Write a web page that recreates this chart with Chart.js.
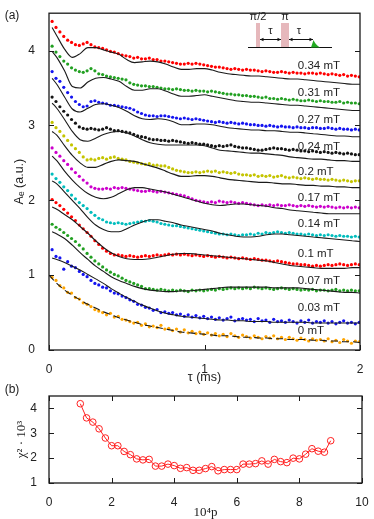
<!DOCTYPE html>
<html><head><meta charset="utf-8">
<script src="https://cdn.jsdelivr.net/npm/chart.js@4.4.1/dist/chart.umd.min.js"></script>
<style>
html,body{margin:0;padding:0;background:#fff;width:374px;height:519px;overflow:hidden;}
#c1{position:absolute;left:0;top:0;}
#c2{position:absolute;left:0;top:380px;}
</style></head><body>
<canvas id="c1" width="374" height="388"></canvas>
<canvas id="c2" width="374" height="140"></canvas>
<script>
// ---------- panel (a) data ----------
const tau = [0.020,0.045,0.070,0.095,0.120,0.145,0.170,0.195,0.220,0.245,
0.270,0.295,0.320,0.345,0.370,0.395,0.420,0.445,0.470,0.495,
0.520,0.545,0.570,0.595,0.620,0.645,0.670,0.695,0.720,0.745,
0.770,0.795,0.820,0.845,0.870,0.895,0.920,0.945,0.970,0.995,
1.020,1.045,1.070,1.095,1.120,1.145,1.170,1.195,1.220,1.245,
1.270,1.295,1.320,1.345,1.370,1.395,1.420,1.445,1.470,1.495,
1.520,1.545,1.570,1.595,1.620,1.645,1.670,1.695,1.720,1.745,
1.770,1.795,1.820,1.845,1.870,1.895,1.920,1.945,1.970,1.995];
const fitTau = [0.02,0.05,0.10,0.15,0.20,0.25,0.30,0.35,0.40,0.45,0.50,0.55,0.60,0.65,0.70,0.75,0.80,0.85,0.90,0.95,1.00,
1.05,1.10,1.15,1.20,1.25,1.30,1.35,1.40,1.45,1.50,1.55,1.60,1.65,1.70,1.75,1.80,1.85,1.90,1.95,2.00];
const fitTauZero = [0.00,0.05,0.10,0.15,0.20,0.25,0.30,0.35,0.40,0.45,0.50,0.55,0.60,0.65,0.70,0.75,0.80,0.85,0.90,0.95,1.00,
1.05,1.10,1.15,1.20,1.25,1.30,1.35,1.40,1.45,1.50,1.55,1.60,1.65,1.70,1.75,1.80,1.85,1.90,1.95,2.00];

const fieldLabels = ['0.34 mT','0.31 mT','0.27 mT','0.24 mT','0.2 mT','0.17 mT','0.14 mT','0.1 mT','0.07 mT','0.03 mT','0 mT'];
const seriesColors = ['#ff0000','#22a022','#1414f0','#141414','#c4c400','#cc00cc','#00bdbd','#ff0000','#22a022','#1414f0','#ffa500'];

const dat034 = [4.39,4.31,4.25,4.19,4.14,4.11,4.08,4.07,4.09,4.11,
4.08,4.05,4.04,4.03,4.01,3.99,3.98,3.96,3.94,3.93,
3.92,3.90,3.91,3.89,3.89,3.90,3.88,3.88,3.86,3.86,
3.85,3.84,3.83,3.82,3.82,3.83,3.82,3.83,3.82,3.81,
3.80,3.79,3.78,3.78,3.77,3.76,3.75,3.76,3.75,3.74,
3.75,3.74,3.74,3.73,3.72,3.73,3.72,3.71,3.71,3.72,
3.71,3.70,3.71,3.70,3.70,3.69,3.70,3.70,3.69,3.70,
3.69,3.68,3.69,3.68,3.67,3.68,3.66,3.67,3.66,3.65];
const dat031 = [4.06,3.98,3.92,3.86,3.82,3.77,3.74,3.72,3.71,3.73,
3.76,3.73,3.69,3.68,3.66,3.65,3.64,3.63,3.62,3.61,
3.57,3.55,3.54,3.53,3.53,3.52,3.52,3.51,3.50,3.49,
3.49,3.48,3.49,3.48,3.47,3.47,3.46,3.47,3.46,3.46,
3.45,3.46,3.45,3.44,3.43,3.42,3.42,3.41,3.41,3.40,
3.40,3.39,3.39,3.38,3.37,3.38,3.36,3.36,3.35,3.36,
3.35,3.34,3.35,3.34,3.33,3.33,3.34,3.33,3.32,3.33,
3.32,3.32,3.31,3.31,3.32,3.30,3.31,3.30,3.30,3.29];
const dat027 = [3.72,3.63,3.59,3.51,3.44,3.38,3.32,3.28,3.25,3.26,
3.32,3.33,3.31,3.30,3.29,3.27,3.27,3.26,3.25,3.24,
3.23,3.21,3.18,3.16,3.14,3.13,3.13,3.12,3.13,3.13,
3.12,3.11,3.10,3.09,3.10,3.09,3.08,3.09,3.08,3.07,
3.06,3.05,3.04,3.05,3.04,3.03,3.04,3.03,3.02,3.03,
3.02,3.01,3.01,3.00,3.00,2.99,3.00,2.99,2.98,2.99,
2.98,2.98,2.97,2.98,2.97,2.97,2.96,2.97,2.97,2.96,
2.96,2.97,2.96,2.95,2.96,2.95,2.95,2.94,2.95,2.94];
const dat024 = [3.38,3.32,3.25,3.19,3.14,3.08,3.03,2.98,2.96,2.95,
2.96,2.95,2.94,2.95,2.97,2.95,2.93,2.93,2.92,2.91,
2.90,2.88,2.86,2.85,2.84,2.82,2.81,2.81,2.80,2.80,
2.79,2.80,2.79,2.78,2.77,2.76,2.77,2.76,2.75,2.75,
2.74,2.73,2.72,2.73,2.72,2.73,2.74,2.72,2.71,2.70,
2.70,2.69,2.68,2.67,2.67,2.68,2.69,2.70,2.69,2.69,
2.68,2.67,2.68,2.67,2.66,2.66,2.65,2.66,2.65,2.64,
2.65,2.64,2.63,2.64,2.63,2.62,2.63,2.62,2.61,2.61];
const dat020 = [3.04,2.97,2.92,2.86,2.80,2.74,2.69,2.64,2.58,2.54,
2.55,2.54,2.56,2.57,2.55,2.57,2.58,2.56,2.55,2.54,
2.52,2.51,2.50,2.49,2.48,2.49,2.47,2.47,2.46,2.46,
2.44,2.42,2.40,2.39,2.38,2.37,2.37,2.38,2.37,2.38,
2.39,2.38,2.39,2.37,2.38,2.37,2.36,2.37,2.35,2.34,
2.34,2.33,2.34,2.32,2.33,2.32,2.33,2.31,2.32,2.33,
2.31,2.30,2.31,2.30,2.29,2.30,2.29,2.28,2.29,2.28,
2.28,2.27,2.28,2.27,2.26,2.27,2.26,2.25,2.26,2.26];
const dat017 = [2.70,2.64,2.59,2.53,2.48,2.42,2.37,2.32,2.27,2.23,
2.18,2.16,2.15,2.15,2.16,2.15,2.17,2.16,2.17,2.16,
2.15,2.14,2.13,2.12,2.12,2.13,2.12,2.11,2.12,2.11,
2.10,2.09,2.08,2.07,2.06,2.04,2.02,2.00,1.99,1.98,
1.97,1.98,1.97,1.99,1.98,1.97,1.98,1.97,1.96,1.97,
1.96,1.95,1.94,1.93,1.94,1.93,1.94,1.93,1.94,1.93,
1.93,1.94,1.93,1.92,1.93,1.92,1.93,1.92,1.91,1.92,
1.91,1.92,1.91,1.90,1.91,1.90,1.91,1.90,1.91,1.90];
const dat014 = [2.35,2.29,2.24,2.18,2.13,2.07,2.02,1.97,1.93,1.89,
1.84,1.80,1.76,1.74,1.71,1.70,1.69,1.70,1.69,1.68,
1.69,1.70,1.71,1.72,1.72,1.73,1.72,1.71,1.69,1.68,
1.67,1.66,1.66,1.65,1.64,1.63,1.62,1.61,1.60,1.59,
1.58,1.57,1.56,1.55,1.55,1.54,1.55,1.54,1.53,1.54,
1.54,1.55,1.54,1.56,1.55,1.57,1.56,1.57,1.58,1.57,
1.56,1.57,1.56,1.55,1.55,1.54,1.55,1.54,1.53,1.54,
1.53,1.54,1.53,1.52,1.53,1.52,1.52,1.51,1.52,1.51];
const dat010 = [2.01,1.97,1.93,1.88,1.83,1.78,1.73,1.67,1.62,1.57,
1.52,1.46,1.41,1.36,1.32,1.29,1.27,1.27,1.26,1.25,
1.26,1.25,1.24,1.25,1.26,1.25,1.26,1.27,1.26,1.27,
1.28,1.27,1.28,1.27,1.28,1.27,1.26,1.27,1.26,1.25,
1.26,1.25,1.24,1.25,1.24,1.23,1.24,1.23,1.22,1.23,
1.22,1.21,1.22,1.21,1.20,1.20,1.19,1.18,1.19,1.18,
1.17,1.16,1.15,1.15,1.14,1.14,1.13,1.12,1.13,1.12,
1.13,1.14,1.13,1.14,1.15,1.14,1.13,1.14,1.15,1.14];
const dat007 = [1.68,1.64,1.61,1.57,1.53,1.49,1.45,1.40,1.35,1.29,
1.24,1.19,1.15,1.11,1.07,1.04,1.01,0.99,0.96,0.93,
0.91,0.89,0.87,0.85,0.82,0.82,0.81,0.80,0.81,0.80,
0.79,0.80,0.79,0.80,0.79,0.78,0.80,0.79,0.80,0.79,
0.80,0.81,0.80,0.82,0.81,0.82,0.83,0.82,0.83,0.82,
0.83,0.82,0.84,0.83,0.82,0.83,0.82,0.81,0.82,0.83,
0.82,0.81,0.82,0.81,0.80,0.81,0.80,0.81,0.79,0.80,
0.80,0.79,0.80,0.81,0.79,0.80,0.79,0.80,0.79,0.79];
const dat003 = [1.34,1.25,1.23,1.08,1.18,1.12,1.10,1.05,1.01,0.98,
0.93,0.89,0.87,0.84,0.83,0.79,0.76,0.75,0.72,0.70,
0.67,0.65,0.61,0.60,0.57,0.56,0.53,0.54,0.50,0.51,
0.49,0.50,0.47,0.48,0.45,0.47,0.44,0.46,0.43,0.45,
0.42,0.44,0.41,0.43,0.40,0.42,0.44,0.39,0.41,0.42,
0.40,0.41,0.38,0.42,0.39,0.40,0.37,0.41,0.38,0.39,
0.37,0.40,0.38,0.36,0.39,0.37,0.40,0.36,0.38,0.37,
0.39,0.36,0.38,0.35,0.37,0.39,0.36,0.37,0.35,0.37];
const dat000 = [0.97,0.93,0.86,0.83,0.77,0.76,0.70,0.68,0.63,0.61,
0.58,0.54,0.52,0.50,0.47,0.49,0.44,0.45,0.41,0.40,
0.38,0.36,0.37,0.33,0.35,0.31,0.32,0.30,0.33,0.28,
0.29,0.26,0.28,0.24,0.27,0.23,0.25,0.22,0.24,0.21,
0.23,0.20,0.22,0.19,0.21,0.18,0.22,0.19,0.17,0.20,
0.18,0.16,0.19,0.17,0.15,0.18,0.16,0.19,0.15,0.17,
0.14,0.17,0.15,0.13,0.16,0.14,0.12,0.15,0.13,0.14,
0.12,0.15,0.11,0.13,0.10,0.14,0.12,0.09,0.12,0.11];

const fit034 = [4.31,4.20,4.02,3.91,3.96,4.04,4.04,4.01,3.98,3.95,3.88,3.84,3.85,3.86,3.85,3.82,3.78,3.75,3.75,3.76,3.76,
3.74,3.71,3.69,3.68,3.67,3.66,3.66,3.65,3.64,3.63,3.62,3.62,3.61,3.60,3.59,3.58,3.57,3.56,3.55,3.55];
const fit031 = [3.99,3.91,3.73,3.52,3.50,3.58,3.63,3.64,3.62,3.59,3.52,3.47,3.47,3.49,3.49,3.46,3.42,3.39,3.39,3.40,3.41,
3.39,3.37,3.35,3.33,3.32,3.31,3.31,3.30,3.29,3.28,3.27,3.27,3.26,3.25,3.24,3.23,3.22,3.21,3.20,3.20];
const fit027 = [3.63,3.55,3.38,3.22,3.18,3.23,3.28,3.29,3.27,3.24,3.19,3.13,3.09,3.08,3.09,3.08,3.05,3.01,3.01,3.02,3.02,
3.01,2.99,2.97,2.96,2.95,2.94,2.94,2.93,2.93,2.92,2.91,2.91,2.90,2.89,2.88,2.87,2.86,2.86,2.85,2.85];
const fit024 = [3.30,3.23,3.08,2.92,2.81,2.79,2.83,2.88,2.91,2.92,2.90,2.86,2.81,2.77,2.75,2.74,2.74,2.74,2.74,2.74,2.73,
2.70,2.67,2.66,2.65,2.64,2.63,2.63,2.62,2.61,2.60,2.58,2.57,2.56,2.55,2.55,2.54,2.53,2.53,2.52,2.52];
const fit020 = [2.92,2.87,2.73,2.60,2.50,2.44,2.44,2.48,2.52,2.54,2.53,2.52,2.49,2.46,2.43,2.39,2.35,2.32,2.32,2.33,2.33,
2.32,2.30,2.28,2.27,2.26,2.25,2.24,2.24,2.23,2.22,2.22,2.21,2.20,2.20,2.19,2.19,2.18,2.18,2.17,2.17];
const fit017 = [2.59,2.53,2.39,2.27,2.17,2.09,2.04,2.02,2.04,2.09,2.14,2.17,2.17,2.15,2.13,2.11,2.08,2.05,2.02,1.99,1.96,
1.94,1.93,1.94,1.95,1.95,1.94,1.93,1.92,1.90,1.89,1.87,1.86,1.85,1.84,1.83,1.82,1.82,1.82,1.82,1.82];
const fit014 = [2.26,2.22,2.11,2.00,1.89,1.77,1.67,1.61,1.58,1.58,1.62,1.67,1.71,1.74,1.74,1.72,1.70,1.67,1.65,1.63,1.61,
1.59,1.56,1.54,1.52,1.51,1.51,1.52,1.54,1.55,1.55,1.54,1.53,1.52,1.51,1.50,1.49,1.48,1.47,1.46,1.45];
const fit010 = [1.91,1.88,1.81,1.74,1.65,1.56,1.46,1.37,1.30,1.25,1.22,1.21,1.21,1.22,1.24,1.26,1.28,1.29,1.29,1.28,1.27,
1.26,1.25,1.24,1.23,1.22,1.21,1.20,1.19,1.17,1.15,1.13,1.12,1.11,1.10,1.09,1.09,1.09,1.09,1.10,1.10];
const fit007 = [1.58,1.55,1.49,1.40,1.30,1.21,1.12,1.05,0.98,0.93,0.89,0.85,0.82,0.80,0.79,0.78,0.78,0.79,0.79,0.80,0.81,
0.82,0.83,0.84,0.84,0.84,0.84,0.84,0.84,0.83,0.83,0.83,0.83,0.82,0.81,0.80,0.79,0.78,0.77,0.77,0.76];
const fit003 = [1.23,1.21,1.17,1.12,1.07,1.01,0.95,0.89,0.82,0.76,0.70,0.65,0.60,0.56,0.52,0.49,0.47,0.45,0.44,0.43,0.42,
0.41,0.40,0.40,0.39,0.39,0.38,0.38,0.38,0.37,0.37,0.37,0.37,0.37,0.36,0.36,0.36,0.36,0.36,0.36,0.36];
const fit000 = [1.00,0.89,0.80,0.73,0.67,0.61,0.56,0.51,0.47,0.43,0.40,0.37,0.34,0.32,0.30,0.28,0.26,0.24,0.23,0.22,0.21,
0.20,0.19,0.19,0.18,0.17,0.17,0.16,0.16,0.15,0.15,0.14,0.14,0.14,0.13,0.13,0.12,0.12,0.11,0.11,0.10];

const dataSeries = [dat034,dat031,dat027,dat024,dat020,dat017,dat014,dat010,dat007,dat003,dat000];
const fitSeries  = [fit034,fit031,fit027,fit024,fit020,fit017,fit014,fit010,fit007,fit003,fit000];
const yTicksA = [0,1,2,3,4];
const xTicksA = [0,1,2];
// label anchors (text placement, in axis units)
const labelTau = 1.60;
const labelAe = [3.80,3.43,3.07,2.72,2.38,2.03,1.68,1.28,0.93,0.57,0.25];

// ---------- panel (b) data ----------
const pValues = [1.0,1.2,1.4,1.6,1.8,2.0,2.2,2.4,2.6,2.8,3.0,3.2,3.4,3.6,3.8,4.0,4.2,4.4,4.6,4.8,5.0,
5.2,5.4,5.6,5.8,6.0,6.2,6.4,6.6,6.8,7.0,7.2,7.4,7.6,7.8,8.0,8.2,8.4,8.6,8.8,9.0];
const chi2 = [4.19,3.62,3.45,3.18,2.81,2.50,2.50,2.27,2.14,1.97,1.93,1.95,1.68,1.68,1.76,1.70,1.59,1.62,1.51,1.51,1.58,
1.66,1.49,1.54,1.54,1.54,1.76,1.76,1.78,1.89,1.76,1.95,1.86,1.82,2.00,1.97,2.16,2.38,2.28,2.24,2.70];

// ---------- drawing ----------
const SANS = "'Liberation Sans', Arial, 'DejaVu Sans', sans-serif";
const SERIF = "'Liberation Serif', 'Times New Roman', 'DejaVu Serif', serif";
Chart.defaults.font.family = SANS;
Chart.defaults.color = '#222';

const framePlugin = {
  id: 'frame',
  afterDraw(chart, args, o) {
    const {ctx, chartArea: a, scales: {x, y}} = chart;
    ctx.save();
    ctx.strokeStyle = '#1a1a1a';
    ctx.lineWidth = 1.3;
    ctx.strokeRect(a.left, a.top, a.right - a.left, a.bottom - a.top);
    ctx.lineWidth = 1;
    const L = o.len || 5;
    ctx.beginPath();
    x.ticks.forEach(t => {
      const px = Math.round(x.getPixelForValue(t.value)) + 0.5;
      ctx.moveTo(px, a.bottom); ctx.lineTo(px, a.bottom - L);
      if (o.topTicks) { ctx.moveTo(px, a.top); ctx.lineTo(px, a.top + L); }
    });
    y.ticks.forEach(t => {
      const py = Math.round(y.getPixelForValue(t.value)) + 0.5;
      ctx.moveTo(a.left, py); ctx.lineTo(a.left + L, py);
      ctx.moveTo(a.right, py); ctx.lineTo(a.right - L, py);
    });
    ctx.stroke();
    ctx.fillStyle = '#222';
    ctx.font = '12px ' + SANS;
    ctx.textAlign = 'center'; ctx.textBaseline = 'middle';
    ctx.fillText(o.tag, o.tagX, o.tagY);
    ctx.restore();
  }
};

const fieldLabelPlugin = {
  id: 'fieldLabels',
  afterDatasetsDraw(chart) {
    const {ctx, scales: {x, y}} = chart;
    ctx.save();
    ctx.fillStyle = '#222';
    ctx.font = '11.5px ' + SANS;
    ctx.textAlign = 'left'; ctx.textBaseline = 'middle';
    fieldLabels.forEach((t, i) => ctx.fillText(t, x.getPixelForValue(labelTau), y.getPixelForValue(labelAe[i])));
    ctx.restore();
  }
};

// pulse-sequence inset (decoration)
const insetPlugin = {
  id: 'inset',
  afterDraw(chart) {
    const ctx = chart.ctx;
    ctx.save();
    const base = 47.5;
    ctx.fillStyle = 'rgba(222,160,165,0.75)';
    ctx.fillRect(256, 23, 4, base - 23);
    ctx.fillRect(281, 23, 8, base - 23);
    ctx.strokeStyle = '#111'; ctx.lineWidth = 1;
    ctx.beginPath(); ctx.moveTo(248, base); ctx.lineTo(332, base); ctx.stroke();
    ctx.fillStyle = '#22aa22';
    ctx.beginPath();
    ctx.moveTo(311, base); ctx.lineTo(313.5, 40); ctx.quadraticCurveTo(315.5, 45, 320, base); ctx.closePath(); ctx.fill();
    const arrow = (x1, x2, yy) => {
      ctx.beginPath(); ctx.moveTo(x1, yy); ctx.lineTo(x2, yy); ctx.stroke();
      ctx.beginPath();
      ctx.moveTo(x1, yy); ctx.lineTo(x1 + 3.5, yy - 1.8); ctx.lineTo(x1 + 3.5, yy + 1.8); ctx.closePath();
      ctx.moveTo(x2, yy); ctx.lineTo(x2 - 3.5, yy - 1.8); ctx.lineTo(x2 - 3.5, yy + 1.8); ctx.closePath();
      ctx.fillStyle = '#111'; ctx.fill();
    };
    arrow(260, 281, 39.5);
    arrow(289, 313, 39.5);
    ctx.fillStyle = '#222';
    ctx.font = '11px ' + SANS;
    ctx.textAlign = 'center'; ctx.textBaseline = 'middle';
    ctx.fillText('π/2', 258, 17);
    ctx.fillText('π', 285, 17);
    ctx.fillText('τ', 270.5, 31);
    ctx.fillText('τ', 299, 31);
    ctx.restore();
  }
};

const datasetsA = [];
dataSeries.forEach((arr, i) => {
  datasetsA.push({
    data: arr.map((v, k) => ({x: tau[k], y: v})),
    showLine: false,
    pointRadius: 1.6,
    pointBorderWidth: 0,
    pointBackgroundColor: seriesColors[i],
    pointStyle: 'circle',
    order: 2
  });
});
fitSeries.forEach((arr, i) => {
  const tt = (i === fitSeries.length - 1) ? fitTauZero : fitTau;
  datasetsA.push({
    data: arr.map((v, k) => ({x: tt[k], y: v})),
    borderColor: '#1a1a1a',
    borderWidth: 1.1,
    borderDash: (i === fitSeries.length - 1) ? [7, 4] : [],
    pointRadius: 0,
    cubicInterpolationMode: 'monotone',
    fill: false,
    order: 1
  });
});

new Chart(document.getElementById('c1'), {
  type: 'line',
  data: {datasets: datasetsA},
  options: {
    responsive: false, animation: false, devicePixelRatio: 1,
    layout: {padding: {top: 8, right: 14, left: 0, bottom: 0}},
    plugins: {legend: {display: false}, tooltip: {enabled: false},
      frame: {tag: '(a)', tagX: 12, tagY: 16, len: 5}},
    scales: {
      x: {type: 'linear', min: 0, max: 2,
        afterBuildTicks: s => { s.ticks = xTicksA.map(v => ({value: v})); },
        ticks: {padding: 4, font: {size: 12}, color: '#222', autoSkip: false, maxRotation: 0},
        grid: {display: false}, border: {display: false},
        title: {display: true, text: 'τ (ms)', font: {size: 12.5}, color: '#222', padding: {top: 0, bottom: 3}},
        afterFit: s => { s.height = 38; }
      },
      y: {type: 'linear', min: 0, max: 4.5,
        afterBuildTicks: s => { s.ticks = yTicksA.map(v => ({value: v})); },
        ticks: {padding: 6, font: {size: 12}, color: '#222'},
        grid: {display: false}, border: {display: false},
        title: {display: true, text: 'Aₑ (a.u.)', font: {size: 12.5}, color: '#222', padding: {top: 12, bottom: 0}},
        afterFit: s => { s.width = 49; }
      }
    }
  },
  plugins: [framePlugin, fieldLabelPlugin, insetPlugin]
});

const xTicksB = [0,2,4,6,8,10];
const yTicksB = [1,2,3,4];
new Chart(document.getElementById('c2'), {
  type: 'line',
  data: {datasets: [{
    data: chi2.map((v, k) => ({x: pValues[k], y: v})),
    borderColor: '#ff2020', borderWidth: 1,
    pointRadius: 3.3, pointBorderWidth: 1, pointBorderColor: '#ff2020',
    pointBackgroundColor: 'rgba(255,255,255,0)', pointStyle: 'circle',
    tension: 0, fill: false
  }]},
  options: {
    responsive: false, animation: false, devicePixelRatio: 1,
    layout: {padding: {top: 16, right: 12, left: 0, bottom: 0}},
    plugins: {legend: {display: false}, tooltip: {enabled: false},
      frame: {tag: '(b)', tagX: 12, tagY: 10, len: 5, topTicks: true}},
    scales: {
      x: {type: 'linear', min: 0, max: 10,
        afterBuildTicks: s => { s.ticks = xTicksB.map(v => ({value: v})); },
        ticks: {padding: 4, font: {size: 12}, color: '#222', autoSkip: false, maxRotation: 0},
        grid: {display: false}, border: {display: false},
        title: {display: true, text: '10⁴p', font: {size: 13, family: SERIF}, color: '#222', padding: {top: 0, bottom: 0}},
        afterFit: s => { s.height = 37; }
      },
      y: {type: 'linear', min: 1, max: 4.5,
        afterBuildTicks: s => { s.ticks = yTicksB.map(v => ({value: v})); },
        ticks: {padding: 4, font: {size: 12}, color: '#222'},
        grid: {display: false}, border: {display: false},
        title: {display: true, text: 'χ² · 10³', font: {size: 13, family: SERIF}, color: '#222', padding: {top: 14, bottom: 0}},
        afterFit: s => { s.width = 49; }
      }
    }
  },
  plugins: [framePlugin]
});
</script>
</body></html>
